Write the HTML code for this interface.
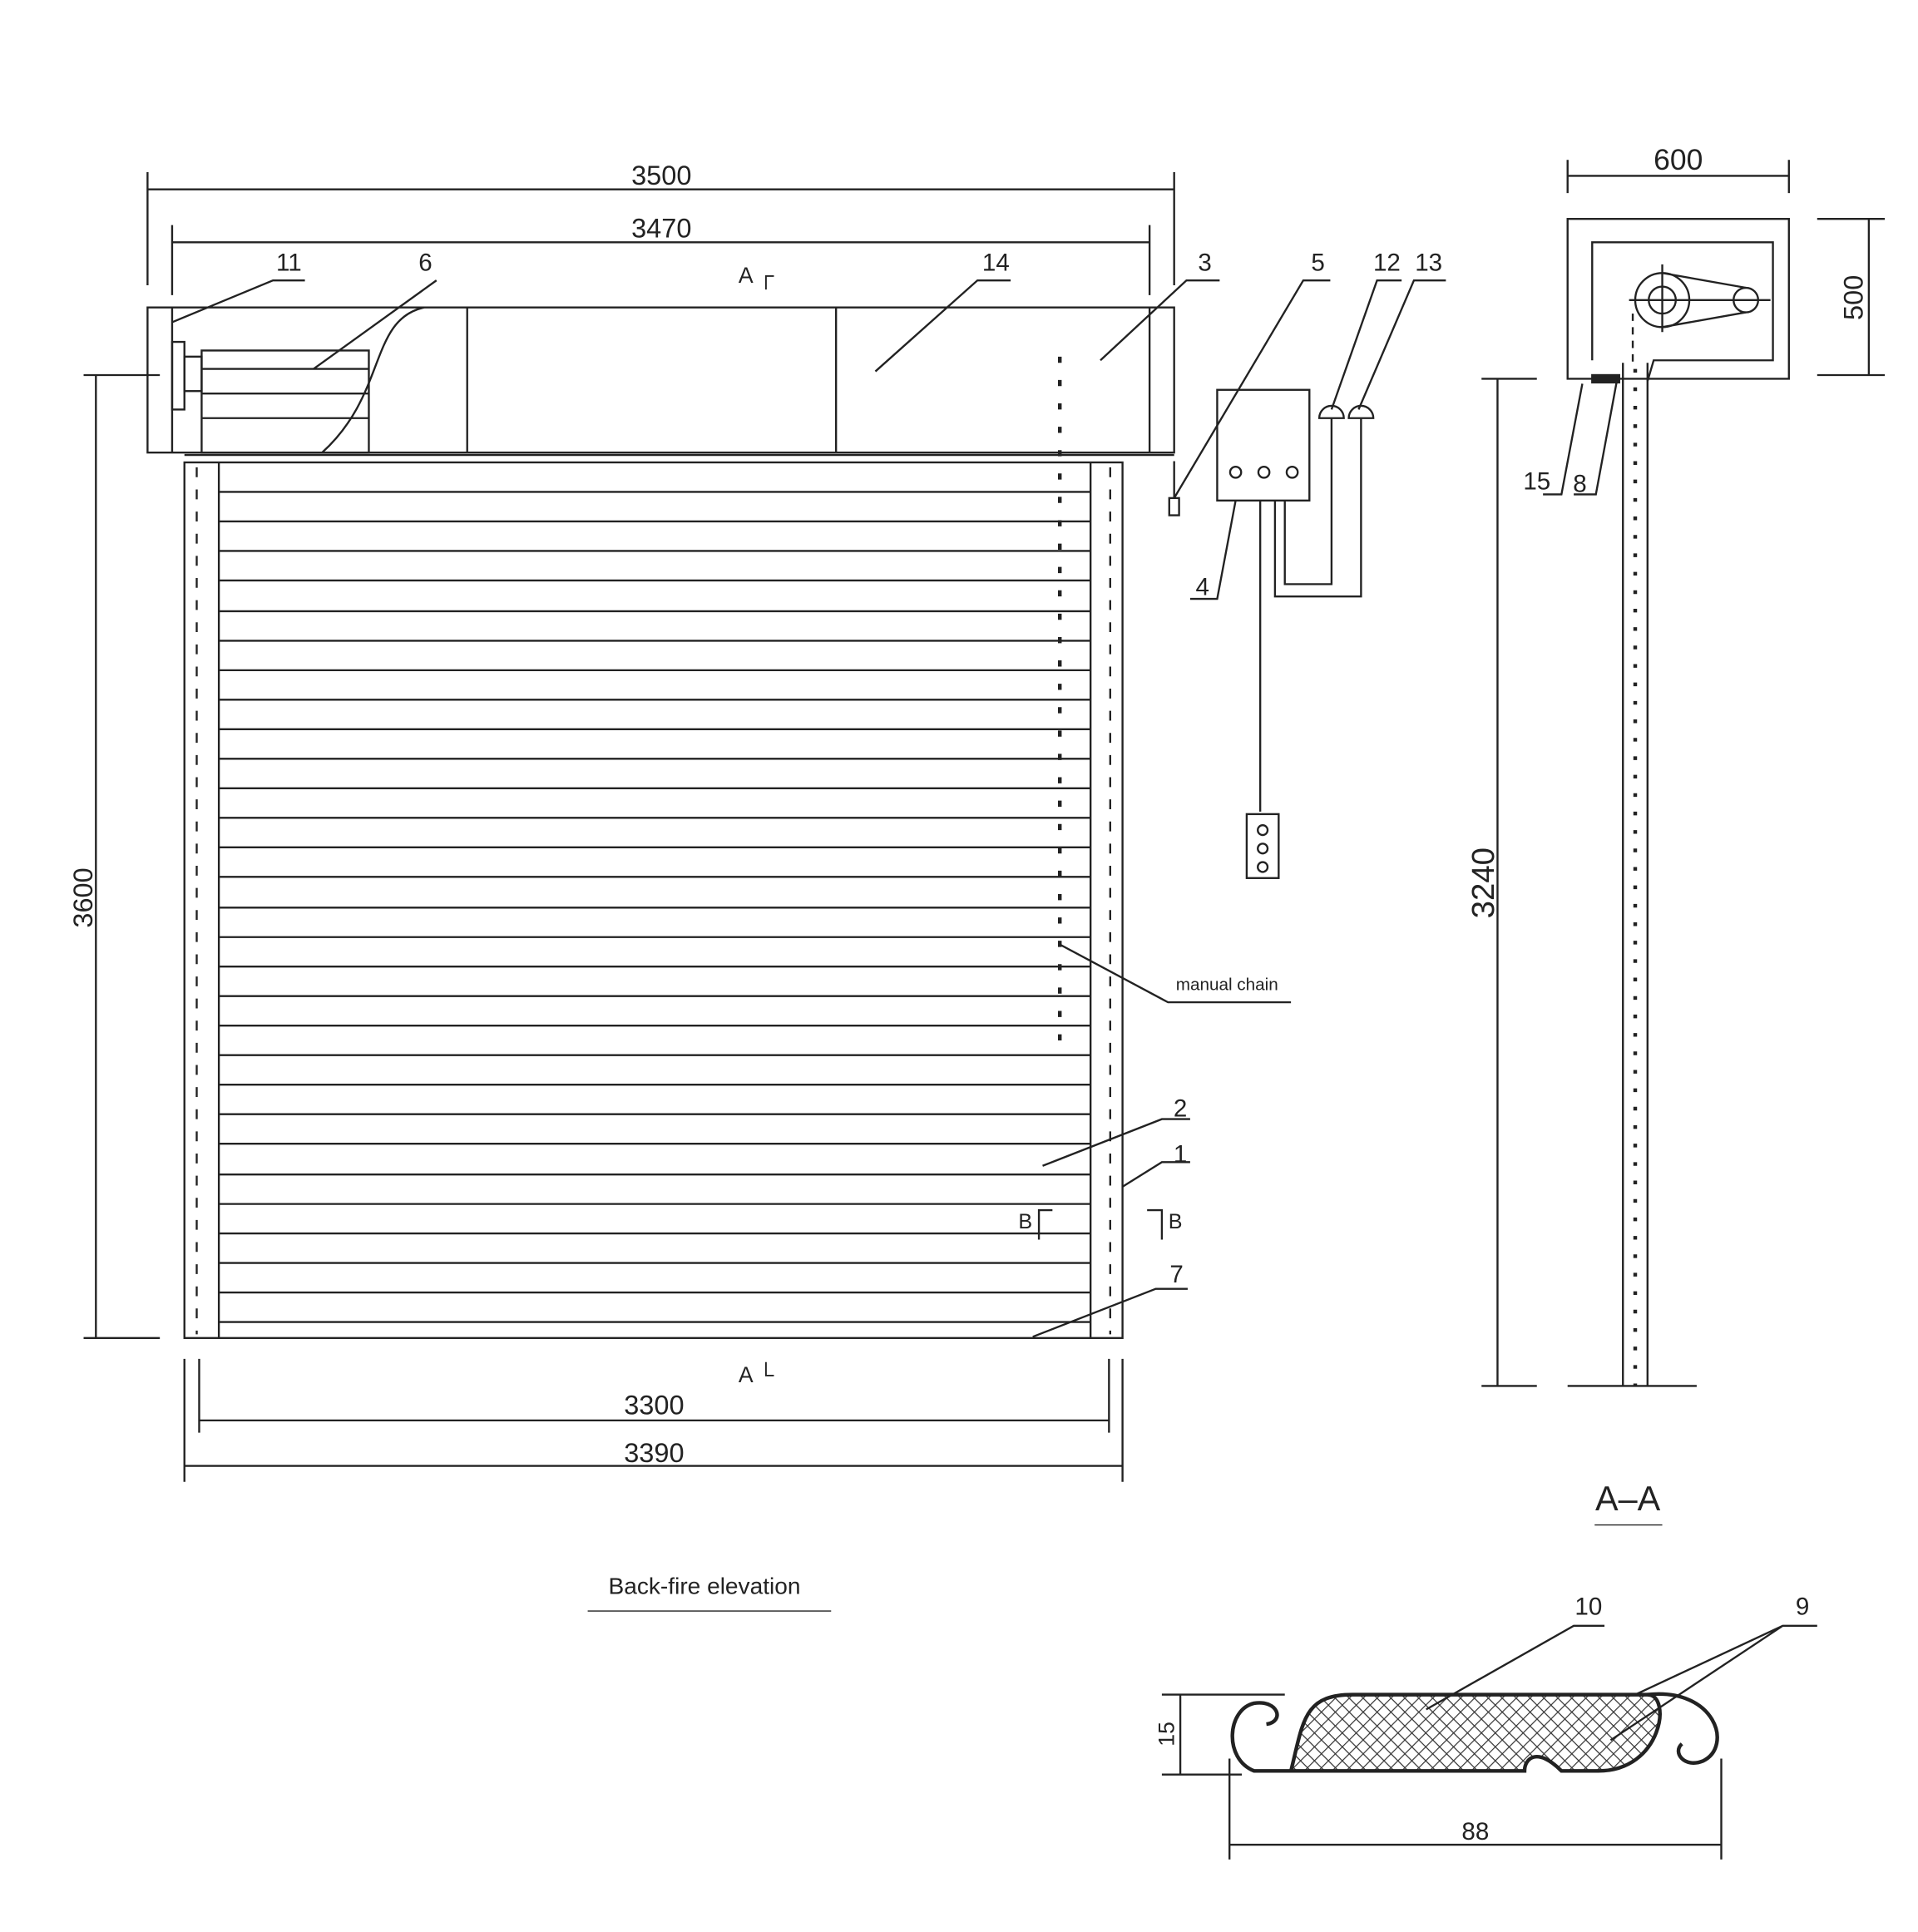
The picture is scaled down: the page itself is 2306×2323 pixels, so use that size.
<!DOCTYPE html>
<html><head><style>html,body{margin:0;padding:0;background:#fff}svg{display:block}text{font-family:"Liberation Sans",sans-serif;fill:#222}</style></head>
<body>
<svg width="2306" height="2323" viewBox="0 0 1560 1571" preserveAspectRatio="none" xmlns="http://www.w3.org/2000/svg">
<defs>
<pattern id="hx" width="8" height="8" patternUnits="userSpaceOnUse" patternTransform="rotate(45)">
<rect width="8" height="8" fill="#fff"/><path d="M0 0H8M0 0V8" stroke="#333" stroke-width="1.6"/></pattern>
</defs>
<g stroke="#222" stroke-width="1.6" fill="none">
<!-- top dims -->
<line x1="120" y1="154" x2="955" y2="154"/><line x1="120" y1="140" x2="120" y2="232"/><line x1="955" y1="140" x2="955" y2="232"/>
<line x1="140" y1="197" x2="935" y2="197"/><line x1="140" y1="183" x2="140" y2="240"/><line x1="935" y1="183" x2="935" y2="240"/>
<!-- header -->
<rect x="120" y="250" width="835" height="118"/>
<line x1="140" y1="250" x2="140" y2="368"/><line x1="935" y1="250" x2="935" y2="368"/>
<line x1="380" y1="250" x2="380" y2="368"/><line x1="680" y1="250" x2="680" y2="368"/>
<rect x="140" y="278" width="10" height="55"/><rect x="150" y="290" width="14" height="28"/>
<path d="M164 285H300V368H164Z"/><path d="M164 300H300M164 320H300M164 340H300"/>
<path d="M345 250C300 260 315 320 262 368"/>
<!-- leaders -->
<path d="M140 262L222 228H248M255 300L355 228M712 302L795 228H822M895 293L965 228H992M955 405L1060 228H1082M1083 333L1120 228H1140M1105 333L1150 228H1176"/>
<!-- door -->
<rect x="150" y="376" width="763" height="712"/>
<line x1="178" y1="376" x2="178" y2="1088"/><line x1="887" y1="376" x2="887" y2="1088"/>
<line x1="160" y1="380" x2="160" y2="1085" stroke-dasharray="8 10"/><line x1="903" y1="380" x2="903" y2="1085" stroke-dasharray="8 10"/>
<line x1="862" y1="290" x2="862" y2="860" stroke-dasharray="5 14" stroke-width="3"/>
<line x1="150" y1="370" x2="955" y2="370"/>
<path d="M178 400H887M178 424H887M178 448H887M178 472H887M178 497H887M178 521H887M178 545H887M178 569H887M178 593H887M178 617H887M178 641H887M178 665H887M178 689H887M178 713H887M178 738H887M178 762H887M178 786H887M178 810H887M178 834H887M178 858H887M178 882H887M178 906H887M178 930H887M178 955H887M178 979H887M178 1003H887M178 1027H887M178 1051H887M178 1075H887"/>
<path d="M862 768L950 815H1050M848 948L945 910H968M913 965L945 945H968M840 1087L940 1048H966"/>
<path d="M845 1008V984H856M933 984H945V1008"/>
<!-- left dim -->
<line x1="78" y1="305" x2="78" y2="1088"/><line x1="68" y1="305" x2="130" y2="305"/><line x1="68" y1="1088" x2="130" y2="1088"/>
<!-- bottom dims -->
<line x1="162" y1="1155" x2="902" y2="1155"/><line x1="162" y1="1105" x2="162" y2="1165"/><line x1="902" y1="1105" x2="902" y2="1165"/>
<line x1="150" y1="1192" x2="913" y2="1192"/><line x1="150" y1="1105" x2="150" y2="1205"/><line x1="913" y1="1105" x2="913" y2="1205"/>
<line x1="478" y1="1310" x2="676" y2="1310" stroke-width="1"/>
<!-- control -->
<rect x="990" y="317" width="75" height="90"/>
<circle cx="1005" cy="384" r="4.5"/><circle cx="1028" cy="384" r="4.5"/><circle cx="1051" cy="384" r="4.5"/>
<path d="M1025 407V660M1045 407V475H1083V340M1037 407V485H1107V340"/>
<path d="M1073 340A10 10 0 0 1 1093 340ZM1097 340A10 10 0 0 1 1117 340Z"/>
<rect x="1014" y="662" width="26" height="52"/>
<circle cx="1027" cy="675" r="4"/><circle cx="1027" cy="690" r="4"/><circle cx="1027" cy="705" r="4"/>
<path d="M1005 407L990 487H968M955 375V405"/><rect x="951" y="405" width="8" height="14"/>
<!-- A-A -->
<line x1="1275" y1="143" x2="1455" y2="143"/><line x1="1275" y1="130" x2="1275" y2="157"/><line x1="1455" y1="130" x2="1455" y2="157"/>
<rect x="1275" y="178" width="180" height="130"/><path d="M1295 293V197H1442V293H1345L1340 310"/>
<line x1="1520" y1="178" x2="1520" y2="305"/><line x1="1478" y1="178" x2="1533" y2="178"/><line x1="1478" y1="305" x2="1533" y2="305"/>
<circle cx="1352" cy="244" r="22"/><circle cx="1352" cy="244" r="11"/><circle cx="1420" cy="244" r="10"/>
<path d="M1352 222L1420 234M1352 266L1420 254M1325 244H1440M1352 215V270"/>
<path d="M1328 255V295" stroke-dasharray="6 5"/>
<rect x="1295" y="305" width="22" height="6" fill="#222"/>
<line x1="1320" y1="295" x2="1320" y2="1127"/><line x1="1340" y1="295" x2="1340" y2="1127"/>
<line x1="1330" y1="300" x2="1330" y2="1127" stroke-dasharray="3 12" stroke-width="3"/>
<line x1="1218" y1="308" x2="1218" y2="1127"/><line x1="1205" y1="308" x2="1250" y2="308"/><line x1="1205" y1="1127" x2="1250" y2="1127"/>
<line x1="1275" y1="1127" x2="1380" y2="1127"/>
<path d="M1287 312L1270 402H1255M1315 310L1298 402H1280"/>
<line x1="1297" y1="1240" x2="1352" y2="1240" stroke-width="1"/>
<!-- slat section -->
<path d="M1050 1440C1060 1400 1060 1378 1100 1378H1340C1360 1378 1352 1440 1300 1440H1270C1250 1420 1240 1430 1240 1440Z" fill="url(#hx)" stroke-width="3"/>
<path d="M1050 1440H1020C995 1430 998 1390 1020 1385C1040 1382 1045 1400 1030 1402" stroke-width="3"/>
<path d="M1340 1378C1395 1372 1410 1420 1385 1432C1370 1438 1360 1425 1368 1418" stroke-width="3"/>
<path d="M1160 1390L1280 1322H1305M1330 1378L1450 1322H1478M1310 1415L1450 1322"/>
<line x1="960" y1="1378" x2="960" y2="1443"/><line x1="945" y1="1378" x2="1045" y2="1378"/><line x1="945" y1="1443" x2="1010" y2="1443"/>
<line x1="1000" y1="1500" x2="1400" y2="1500"/><line x1="1000" y1="1430" x2="1000" y2="1512"/><line x1="1400" y1="1430" x2="1400" y2="1512"/>
</g>
<g font-size="22" text-anchor="middle">
<text x="538" y="150">3500</text><text x="538" y="193">3470</text>
<text x="235" y="220" font-size="20">11</text><text x="346" y="220" font-size="20">6</text><text x="810" y="220" font-size="20">14</text>
<text x="980" y="220" font-size="20">3</text><text x="1072" y="220" font-size="20">5</text><text x="1128" y="220" font-size="20">12</text><text x="1162" y="220" font-size="20">13</text>
<text x="615" y="230" font-size="18">A ┌</text>
<text x="978" y="484" font-size="20">4</text>
<text x="998" y="805" font-size="14">manual chain</text>
<text x="960" y="908" font-size="20">2</text><text x="960" y="945" font-size="20">1</text><text x="957" y="1043" font-size="20">7</text>
<text x="834" y="999" font-size="17">B</text><text x="956" y="999" font-size="17">B</text>
<text x="615" y="1124" font-size="18">A └</text>
<text x="532" y="1150">3300</text><text x="532" y="1189">3390</text>
<text x="573" y="1296" font-size="19">Back-fire elevation</text>
<text transform="translate(75,730) rotate(-90)">3600</text>
<text x="1365" y="138" font-size="24">600</text>
<text transform="translate(1515,242) rotate(-90)" font-size="22">500</text>
<text transform="translate(1215,718) rotate(-90)" font-size="26">3240</text>
<text x="1250" y="398" font-size="20">15</text><text x="1285" y="400" font-size="20">8</text>
<text x="1324" y="1228" font-size="28">A–A</text>
<text x="1292" y="1313" font-size="20">10</text><text x="1466" y="1313" font-size="20">9</text>
<text transform="translate(955,1410) rotate(-90)" font-size="18">15</text>
<text x="1200" y="1496" font-size="20">88</text>
</g>
</svg>
</body></html>
